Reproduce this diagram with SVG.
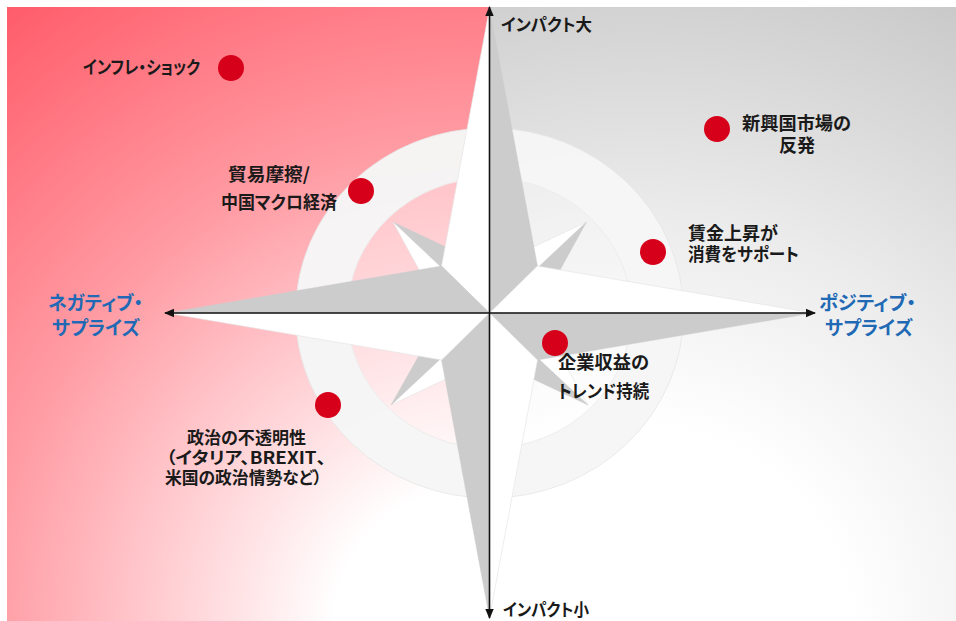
<svg xmlns="http://www.w3.org/2000/svg" width="956" height="621" viewBox="0 0 956 621">
  <defs>
    <radialGradient id="bgRed" gradientUnits="userSpaceOnUse" cx="470" cy="625" r="800">
      <stop offset="0" stop-color="#ffffff"/>
      <stop offset="0.17" stop-color="#ffffff"/>
      <stop offset="0.6" stop-color="#ff9ca4"/>
      <stop offset="1" stop-color="#ff5664"/>
    </radialGradient>
    <radialGradient id="bgGray" gradientUnits="userSpaceOnUse" cx="640" cy="640" r="760">
      <stop offset="0" stop-color="#ffffff"/>
      <stop offset="0.28" stop-color="#ffffff"/>
      <stop offset="0.55" stop-color="#ececec"/>
      <stop offset="1" stop-color="#c3c3c3"/>
    </radialGradient>
    <marker id="arrow" viewBox="0 0 10 10" refX="9" refY="5" markerWidth="10" markerHeight="10" markerUnits="userSpaceOnUse" orient="auto">
      <path d="M0,0.8 L10,5 L0,9.2 Z" fill="#111"/>
    </marker>
    <style>
      .lbl { font-family: "Noto Sans CJK JP", "Liberation Sans", sans-serif; font-weight: bold; font-size: 18px; fill: #1a1a1a; font-feature-settings: "palt"; }
      .sm { font-size: 17px; }
      .blue { fill: #1f69b5; font-size: 19px; }
      .dot { fill: #d7001a; }
      .w { fill: #ffffff; stroke: #e2e2e2; stroke-width: 0.6; stroke-linejoin: round; }
      .g { fill: #cccccc; stroke: #cccccc; stroke-width: 0.4; stroke-linejoin: round; }
      .axis { stroke: #111; stroke-width: 1.6; fill: none; }
    </style>
  </defs>

  <!-- background panels -->
  <rect x="7" y="7" width="482.5" height="614" fill="url(#bgRed)"/>
  <rect x="489.5" y="7" width="466.5" height="614" fill="url(#bgGray)"/>

  <!-- compass rings: outer band (with hole) and translucent inner disk -->
  <g id="rings">
    <path fill="#f6f6f6" fill-opacity="0.97" fill-rule="evenodd" stroke="#e6e6e6" stroke-width="0.8"
          d="M295.5,313 a194,185 0 1,0 388,0 a194,185 0 1,0 -388,0 Z
             M347.5,313 a142,135 0 1,0 284,0 a142,135 0 1,0 -284,0 Z"/>
    <ellipse cx="489.5" cy="313" rx="142" ry="135" fill="#ffffff" fill-opacity="0.35"/>
  </g>

  <!-- compass star: diagonal points -->
  <g id="star-diagonal">
    <polygon class="g" points="393,222 475.5,261 489.5,313"/>
    <polygon class="w" points="393,222 489.5,313 435.5,300"/>
    <polygon class="w" points="586.5,222 503.5,261 489.5,313"/>
    <polygon class="g" points="586.5,222 489.5,313 543.5,300"/>
    <polygon class="w" points="588,405 543.5,326 489.5,313"/>
    <polygon class="g" points="588,405 489.5,313 503.5,365"/>
    <polygon class="w" points="391,405 475.5,365 489.5,313"/>
    <polygon class="g" points="391,405 489.5,313 435.5,326"/>
  </g>

  <!-- compass star: main points -->
  <g id="star-main">
    <polygon class="w" points="489.5,8 489.5,313 441.5,266"/>
    <polygon class="g" points="489.5,8 489.5,313 537.5,266"/>
    <polygon class="w" points="813,313 489.5,313 537.5,266"/>
    <polygon class="g" points="813,313 489.5,313 537.5,360"/>
    <polygon class="w" points="489.5,618 489.5,313 537.5,360"/>
    <polygon class="g" points="489.5,618 489.5,313 441.5,360"/>
    <polygon class="w" points="166,313 489.5,313 441.5,360"/>
    <polygon class="g" points="166,313 489.5,313 441.5,266"/>
  </g>

  <!-- axes -->
  <g id="connectors">
    <line class="axis" x1="489.5" y1="313" x2="489.5" y2="7" marker-end="url(#arrow)"/>
    <line class="axis" x1="489.5" y1="313" x2="489.5" y2="618" marker-end="url(#arrow)"/>
    <line class="axis" x1="489.5" y1="313" x2="165" y2="313" marker-end="url(#arrow)"/>
    <line class="axis" x1="489.5" y1="313" x2="815" y2="313" marker-end="url(#arrow)"/>
  </g>

  <!-- axis labels -->
  <g id="axis-top"><text class="lbl sm" x="501" y="31" textLength="91" lengthAdjust="spacingAndGlyphs">インパクト大</text></g>
  <g id="axis-bottom"><text class="lbl sm" x="503" y="616" textLength="86" lengthAdjust="spacingAndGlyphs">インパクト小</text></g>
  <g id="axis-left">
    <text class="lbl blue" x="48" y="310" textLength="95" lengthAdjust="spacingAndGlyphs">ネガティブ・</text>
    <text class="lbl blue" x="52" y="335" textLength="88" lengthAdjust="spacingAndGlyphs">サプライズ</text>
  </g>
  <g id="axis-right">
    <text class="lbl blue" x="819" y="310" textLength="97" lengthAdjust="spacingAndGlyphs">ポジティブ・</text>
    <text class="lbl blue" x="825" y="335" textLength="88" lengthAdjust="spacingAndGlyphs">サプライズ</text>
  </g>

  <!-- risk items -->
  <g id="inflation-shock">
    <circle class="dot" cx="231" cy="68" r="13"/>
    <text class="lbl" x="83" y="74" textLength="117" lengthAdjust="spacingAndGlyphs">インフレ・ショック</text>
  </g>
  <g id="trade-friction">
    <circle class="dot" cx="361" cy="191" r="13"/>
    <text class="lbl" x="228" y="181" textLength="82" lengthAdjust="spacingAndGlyphs">貿易摩擦/</text>
    <text class="lbl" x="221" y="209" textLength="116" lengthAdjust="spacingAndGlyphs">中国マクロ経済</text>
  </g>
  <g id="emerging-markets">
    <circle class="dot" cx="717" cy="129" r="13"/>
    <text class="lbl" x="742" y="130" textLength="109" lengthAdjust="spacingAndGlyphs">新興国市場の</text>
    <text class="lbl" x="779" y="152" textLength="36" lengthAdjust="spacingAndGlyphs">反発</text>
  </g>
  <g id="wage-growth">
    <circle class="dot" cx="653" cy="252" r="13"/>
    <text class="lbl" x="688" y="240" textLength="90" lengthAdjust="spacingAndGlyphs">賃金上昇が</text>
    <text class="lbl" x="688" y="261" textLength="111" lengthAdjust="spacingAndGlyphs">消費をサポート</text>
  </g>
  <g id="earnings-trend">
    <circle class="dot" cx="555" cy="343" r="13"/>
    <text class="lbl" x="558" y="369" textLength="91" lengthAdjust="spacingAndGlyphs">企業収益の</text>
    <text class="lbl" x="558" y="398" textLength="91" lengthAdjust="spacingAndGlyphs">トレンド持続</text>
  </g>
  <g id="political-uncertainty">
    <circle class="dot" cx="328" cy="405" r="13"/>
    <text class="lbl sm" x="187" y="444" textLength="119" lengthAdjust="spacingAndGlyphs">政治の不透明性</text>
    <text class="lbl sm" x="166" y="464" textLength="160" lengthAdjust="spacingAndGlyphs">（イタリア、BREXIT、</text>
    <text class="lbl sm" x="165" y="484" textLength="157" lengthAdjust="spacingAndGlyphs">米国の政治情勢など）</text>
  </g>
</svg>
